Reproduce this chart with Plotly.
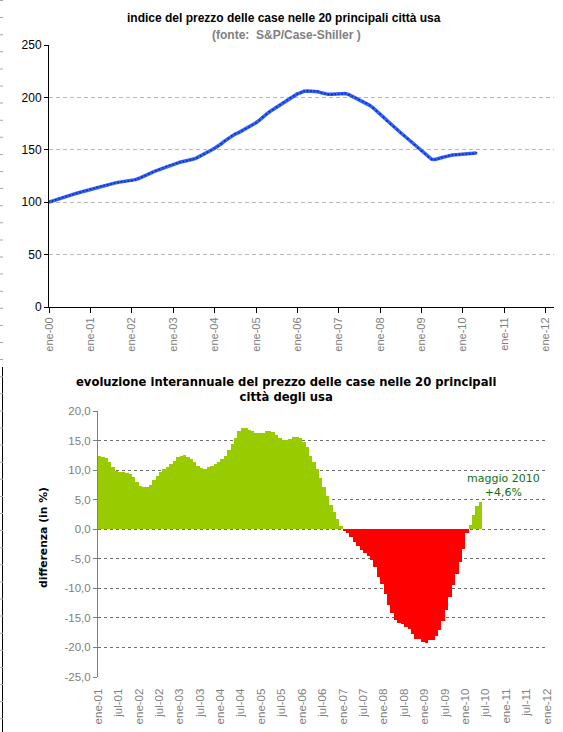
import plotly.graph_objects as go
import pandas as pd

W, H = 563, 732

# ---------------- data ----------------
# S&P/Case-Shiller 20-city composite index, monthly Jan 2000 - May 2010
index_values = [
    100.0, 101.2, 102.4, 103.6, 104.6, 105.6, 106.6, 107.5, 108.5, 109.4, 110.4, 111.4,
    112.4, 113.3, 114.4, 115.3, 116.0, 116.6, 117.4, 118.2, 118.9, 119.4, 119.8, 120.2,
    120.6, 121.5, 122.6, 123.9, 125.4, 127.1, 128.5, 130.0, 131.3, 132.8, 134.1, 135.3,
    136.0, 137.1, 138.1, 138.8, 139.6, 140.3, 141.2, 142.5, 144.1, 145.8, 147.7, 149.6,
    151.5, 153.3, 155.8, 158.5, 160.8, 163.3, 165.0, 166.4, 168.2, 170.0, 171.7, 173.5,
    175.8, 178.3, 181.2, 183.8, 186.3, 188.5, 190.7, 193.0, 195.2, 197.7, 199.7, 201.5,
    203.3, 204.6, 205.8, 206.2, 206.2, 206.1, 205.5, 204.4, 203.3, 202.9, 202.9, 203.0,
    203.1, 203.6, 203.7, 202.6, 201.0, 199.6, 197.8, 196.2, 194.5, 192.4, 190.0, 187.0,
    184.4, 181.0, 177.4, 174.7, 171.9, 169.3, 166.3, 163.4, 160.6, 157.9, 154.8, 151.6,
    148.8, 146.0, 143.3, 141.0, 140.8, 141.4, 142.7, 143.5, 144.4, 145.0, 145.3, 145.5,
    145.7, 145.9, 146.0, 146.4, 147.0,
]
index_start = "2000-01-01"

# Year-on-year change (%), monthly Jan 2001 - May 2010
yoy_values = [
    12.4, 12.2, 12.0, 11.4, 10.5, 9.9, 9.7, 9.7, 9.5, 9.3, 8.8, 8.0,
    7.3, 7.1, 7.1, 7.5, 8.3, 9.0, 9.7, 10.2, 10.5, 11.0, 11.5, 12.2,
    12.4, 12.5, 12.2, 11.9, 11.4, 10.7, 10.3, 10.2, 10.5, 10.7, 11.0, 11.4,
    11.9, 12.4, 13.4, 14.4, 15.4, 16.6, 17.1, 17.1, 16.8, 16.7, 16.3, 16.2,
    16.3, 16.6, 16.6, 16.4, 15.9, 15.4, 15.1, 15.1, 15.3, 15.6, 15.6, 15.4,
    14.7, 13.9, 12.4, 11.4, 10.2, 8.6, 7.1, 5.6, 4.1, 2.9, 1.7, 0.5,
    -0.2, -0.7, -1.3, -2.1, -2.8, -3.5, -4.0, -4.5, -5.2, -6.4, -8.0, -9.3,
    -11.0, -12.9, -14.2, -15.3, -15.9, -16.1, -16.6, -16.9, -17.8, -18.5, -18.5, -19.0,
    -19.3, -18.8, -18.8, -18.1, -17.1, -15.6, -13.6, -11.5, -9.5, -7.6, -5.6, -3.4,
    -0.7, 0.7, 2.4, 3.9, 4.6,
]
yoy_start = "2001-01-01"

top_ticktext = ["ene-00", "ene-01", "ene-02", "ene-03", "ene-04", "ene-05", "ene-06",
                "ene-07", "ene-08", "ene-09", "ene-10", "ene-11", "ene-12"]
bottom_ticktext = ["ene-01", "jul-01", "ene-02", "jul-02", "ene-03", "jul-03", "ene-04",
                   "jul-04", "ene-05", "jul-05", "ene-06", "jul-06", "ene-07", "jul-07",
                   "ene-08", "jul-08", "ene-09", "jul-09", "ene-10", "jul-10", "ene-11",
                   "jul-11", "ene-12"]
y2_tickvals = [-25, -20, -15, -10, -5, 0, 5, 10, 15, 20]
y2_ticktext = ["-25,0", "-20,0", "-15,0", "-10,0", "-5,0", "0,0", "5,0", "10,0", "15,0", "20,0"]

top_title = "indice del prezzo delle case nelle 20 principali città usa"
top_subtitle = "(fonte:  S&P/Case-Shiller )"
bottom_title = "evoluzione interannuale del prezzo delle case nelle 20 principali<br>città degli usa"
y2_title = "differenza (in %)"
note_text = "maggio 2010<br>+4,6%"

# ---------------- helpers ----------------
def px(x):
    return x / W

def py(y):
    return 1 - y / H

idx_months = pd.date_range(index_start, periods=len(index_values), freq="MS")
yoy_months = pd.date_range(yoy_start, periods=len(yoy_values), freq="MS")
top_tickvals = pd.date_range("2000-01-01", periods=len(top_ticktext), freq="12MS")
bottom_tickvals = pd.date_range("2001-01-01", periods=len(bottom_ticktext), freq="6MS")
bar_colors = ["#99CC00" if v >= 0 else "#FF0000" for v in yoy_values]

ARIAL = "Liberation Sans, Arial, sans-serif"
VERD = "DejaVu Sans, Verdana, sans-serif"

fig = go.Figure()
fig.add_trace(go.Scatter(
    x=idx_months, y=index_values, mode="lines+markers",
    line=dict(color="#2F62FF", width=3.5),
    marker=dict(symbol="square", size=1.6, color="#1A2A90", line=dict(width=0)),
    xaxis="x", yaxis="y", showlegend=False, hoverinfo="x+y",
))
fig.add_trace(go.Bar(
    x=yoy_months, y=yoy_values, xperiod="M1", xperiodalignment="middle",
    width=31 * 24 * 3600 * 1000,
    marker=dict(color=bar_colors, line=dict(width=0)),
    xaxis="x2", yaxis="y2", showlegend=False,
))

fig.update_layout(
    width=W, height=H,
    margin=dict(l=0, r=0, t=0, b=0, autoexpand=False),
    paper_bgcolor="white", plot_bgcolor="white",
    bargap=0,
    xaxis=dict(
        domain=[px(49), px(554)], anchor="y", type="date",
        range=["2000-01-01", "2012-03-15"],
        tickmode="array", tickvals=top_tickvals, ticktext=top_ticktext,
        tickangle=-90, tickfont=dict(family=ARIAL, size=11, color="#808080"),
        ticks="outside", ticklen=5, tickcolor="black",
        showline=True, linecolor="black", linewidth=1,
        showgrid=False, zeroline=False, automargin=False,
    ),
    yaxis=dict(
        domain=[py(307), py(45)], anchor="x",
        range=[0, 250], tickmode="array", tickvals=[0, 50, 100, 150, 200, 250],
        tickfont=dict(family=ARIAL, size=12, color="black"),
        ticks="outside", ticklen=4, tickcolor="black",
        showline=True, linecolor="black", linewidth=1,
        showgrid=True, gridcolor="#B8B8B8", griddash="4px,3px", gridwidth=1,
        zeroline=False, automargin=False,
    ),
    xaxis2=dict(
        domain=[px(98), px(547)], anchor="y2", type="date",
        range=["2001-01-01", "2012-01-01"],
        tickmode="array", tickvals=bottom_tickvals, ticktext=bottom_ticktext,
        tickangle=-90, tickfont=dict(family=ARIAL, size=11.5, color="#808080"),
        ticks="outside", ticklen=6, tickcolor="rgba(0,0,0,0)",
        showline=False, showgrid=False, zeroline=False, automargin=False,
    ),
    xaxis3=dict(
        domain=[px(98), px(547)], overlaying="x2", anchor="free", position=py(529),
        type="date", range=["2001-01-01", "2012-01-01"],
        tickmode="array", tickvals=bottom_tickvals, showticklabels=False,
        ticks="outside", ticklen=4, tickcolor="black",
        showline=True, linecolor="black", linewidth=1,
        showgrid=False, zeroline=False, automargin=False,
    ),
    yaxis2=dict(
        domain=[py(677), py(411)], anchor="x2",
        range=[-25, 20], tickmode="array", tickvals=y2_tickvals, ticktext=y2_ticktext,
        tickfont=dict(family=ARIAL, size=11.5, color="#808080"),
        ticks="outside", ticklen=4, tickcolor="#808080",
        showline=True, linecolor="#808080", linewidth=1,
        showgrid=True, gridcolor="#707070", griddash="3px,3px", gridwidth=1,
        zeroline=False, automargin=False,
    ),
)

annos = [
    dict(text=f"<b>{top_title}</b>", x=px(284), y=py(18),
         font=dict(family=ARIAL, size=12, color="black")),
    dict(text=f"<b>{top_subtitle}</b>", x=px(286), y=py(35),
         font=dict(family=ARIAL, size=12, color="#808080")),
    dict(text=f"<b>{bottom_title}</b>", x=px(286), y=py(389),
         font=dict(family=VERD, size=11.6, color="black")),
    dict(text=f"<b>{y2_title}</b>", x=px(43), y=py(538), textangle=-90,
         font=dict(family=VERD, size=10.8, color="black")),
    dict(text=note_text, x=px(503), y=py(485),
         font=dict(family=VERD, size=11, color="#107010")),
]
for a in annos:
    a.update(xref="paper", yref="paper", showarrow=False, xanchor="center", yanchor="middle")
    fig.add_annotation(**a)

fig.add_shape(type="line", xref="paper", yref="paper",
              x0=px(2.5), x1=px(2.5), y0=py(367), y1=0,
              line=dict(color="black", width=1))
fig.add_shape(type="line", xref="paper", yref="paper",
              x0=px(1.5), x1=px(1.5), y0=1, y1=0,
              line=dict(color="#A8A8A8", width=3, dash="1px,16.1px"))

fig.write_html("out.html", config={"displayModeBar": False},
               post_script="document.body.style.margin='0px';")
